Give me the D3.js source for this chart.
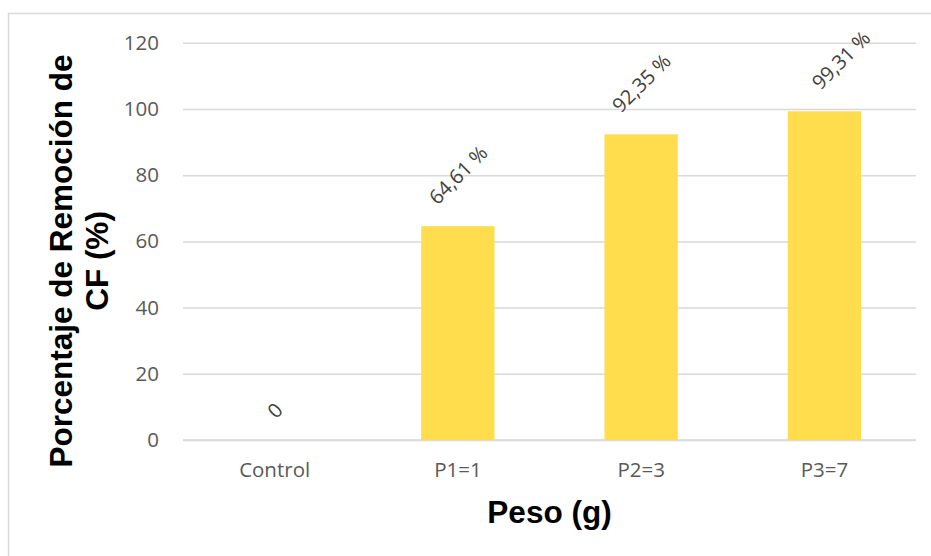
<!DOCTYPE html>
<html>
<head>
<meta charset="utf-8">
<script src="https://cdn.jsdelivr.net/npm/d3@7"></script>
<style>
  html, body { margin: 0; padding: 0; background: #fff; }
  svg { display: block; }
</style>
</head>
<body>
<svg id="chart" width="931" height="556"></svg>
<script>
// Removal percentage of CF by weight of material
const categories = ["Control", "P1=1", "P2=3", "P3=7"];
const values = [0, 64.61, 92.35, 99.31];
const valueLabels = ["0", "64,61 %", "92,35 %", "99,31 %"];
const yTicks = [0, 20, 40, 60, 80, 100, 120];

const W = 931, H = 556;
const plot = { left: 183, right: 916, top: 42.8, bottom: 440 };

const svg = d3.select("#chart");

// chart area frame
svg.append("rect")
  .attr("x", 8.5).attr("y", 13.5)
  .attr("width", 960).attr("height", 600)
  .attr("fill", "#fff")
  .attr("stroke", "#d9d9d9").attr("stroke-width", 1.5);

const x = d3.scaleBand()
  .domain(categories)
  .range([plot.left, plot.right])
  .paddingInner(0.6).paddingOuter(0.3);

const y = d3.scaleLinear()
  .domain([0, 120])
  .range([plot.bottom, plot.top]);

// horizontal gridlines + y tick labels
const yAxis = d3.axisLeft(y)
  .tickValues(yTicks)
  .tickSize(-(plot.right - plot.left))
  .tickPadding(24);

const gy = svg.append("g")
  .attr("transform", `translate(${plot.left},0)`)
  .call(yAxis);
gy.select(".domain").remove();
gy.selectAll(".tick line")
  .attr("stroke", "#d9d9d9").attr("stroke-width", 1.5);
gy.selectAll(".tick text")
  .attr("fill", "#595959")
  .style("font-family", "'Open Sans', sans-serif")
  .style("font-size", "20.5px");

// x category labels
const xAxis = d3.axisBottom(x).tickSize(0).tickPadding(22);
const gx = svg.append("g")
  .attr("transform", `translate(0,${plot.bottom})`)
  .call(xAxis);
gx.select(".domain").remove();
gx.selectAll(".tick text")
  .attr("fill", "#595959")
  .style("font-family", "'Open Sans', sans-serif")
  .style("font-size", "20.5px");

// baseline gridline on top of axis
svg.append("line")
  .attr("x1", plot.left).attr("x2", plot.right)
  .attr("y1", y(0)).attr("y2", y(0))
  .attr("stroke", "#d9d9d9").attr("stroke-width", 1.5);

// bars
svg.append("g").selectAll("rect")
  .data(values)
  .join("rect")
  .attr("x", (d, i) => x(categories[i]))
  .attr("y", d => y(d))
  .attr("width", x.bandwidth())
  .attr("height", d => y(0) - y(d))
  .attr("fill", "#ffdd4d");

// rotated value labels above the bars
const gap = 18;
const labels = svg.append("g").selectAll("text")
  .data(values)
  .join("text")
  .text((d, i) => valueLabels[i])
  .attr("fill", "#404040")
  .attr("text-anchor", "middle")
  .attr("dominant-baseline", "central")
  .style("font-family", "'Open Sans', sans-serif")
  .style("font-size", "20px");

labels.each(function (d, i) {
  const w = this.getComputedTextLength();
  const h = 22;
  const half = (w + h) / (2 * Math.SQRT2);
  let cx = x(categories[i]) + x.bandwidth() / 2;
  const cy = y(d) - gap - half;
  // keep the rotated box from rising above the plot area by sliding right
  const over = plot.top - (cy - half);
  if (over > 0) cx += over;
  d3.select(this).attr("transform", `translate(${cx},${cy}) rotate(-45)`);
});

// axis titles
svg.append("text")
  .attr("x", (plot.left + plot.right) / 2)
  .attr("y", 523)
  .attr("text-anchor", "middle")
  .attr("fill", "#000")
  .style("font-family", "'Liberation Sans', Arial, sans-serif")
  .style("font-weight", "bold")
  .style("font-size", "31.5px")
  .text("Peso (g)");

const yTitle = svg.append("text")
  .attr("transform", "translate(72,261) rotate(-90)")
  .attr("text-anchor", "middle")
  .attr("fill", "#000")
  .style("font-family", "'Liberation Sans', Arial, sans-serif")
  .style("font-weight", "bold")
  .style("font-size", "31.5px");
yTitle.append("tspan").attr("x", 0).attr("dy", 0).text("Porcentaje de Remoción de");
yTitle.append("tspan").attr("x", 0).attr("dy", 36).text("CF (%)");
</script>
</body>
</html>
